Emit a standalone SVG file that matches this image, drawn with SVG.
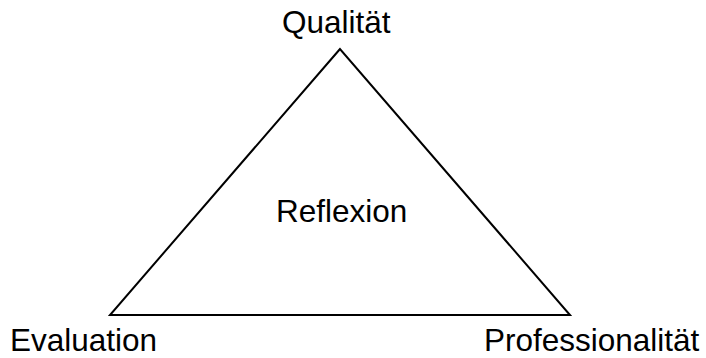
<svg xmlns="http://www.w3.org/2000/svg" width="706" height="358" viewBox="0 0 706 358">
<style>
text{font-family:"Liberation Sans",Arial,sans-serif;font-size:31.5px;fill:#000}
.edge{fill:none;stroke:#000;stroke-width:2;stroke-linejoin:miter}
</style>
<rect width="706" height="358" fill="#fff"/>
<g id="connectors">
<polygon class="edge" points="340,49 110,315 570,315"/>
</g>
<g id="qualitaet"><text x="282" y="33">Qualität</text></g>
<g id="reflexion"><text x="276" y="222">Reflexion</text></g>
<g id="evaluation"><text x="10" y="351">Evaluation</text></g>
<g id="professionalitaet"><text x="484" y="351">Professionalität</text></g>
</svg>
